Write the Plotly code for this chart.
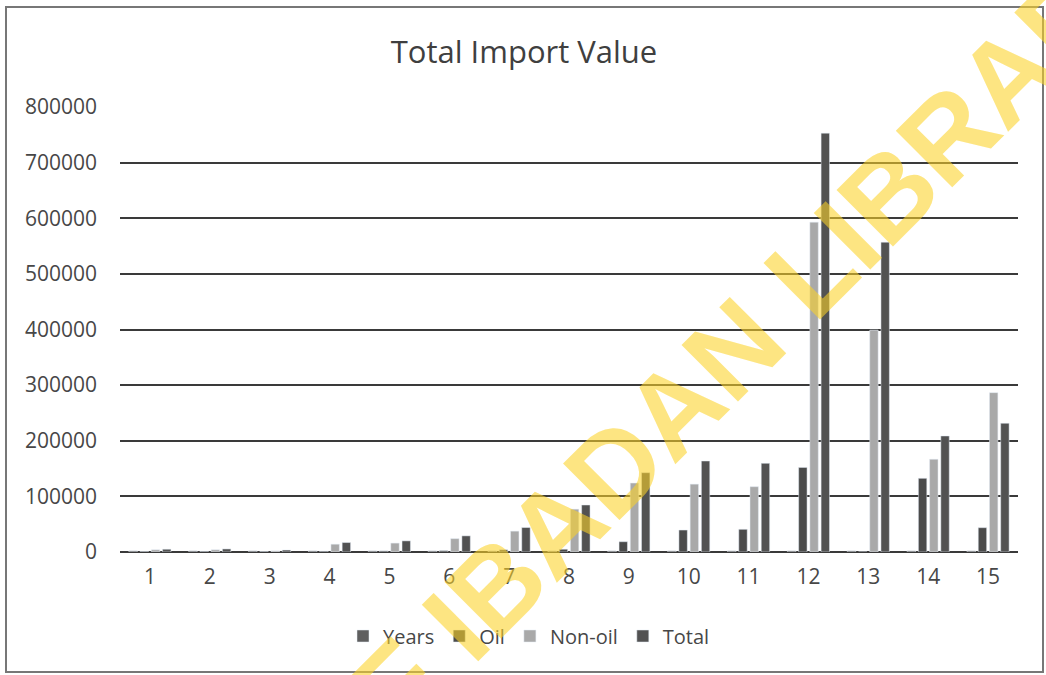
import plotly.graph_objects as go

categories = [str(i) for i in range(1, 16)]
years = [1999, 2000, 2001, 2002, 2003, 2004, 2005, 2006, 2007, 2008, 2009, 2010, 2011, 2012, 2013]
oil = [1000, 1200, 800, 1500, 2000, 2500, 4000, 5000, 18500, 39500, 40800, 152000, 0, 132500, 43700]
non_oil = [4000, 4000, 2000, 14000, 16000, 24000, 37500, 77000, 124000, 122000, 117400, 593000, 399000, 166700, 286500]
total = [5000, 5500, 3500, 17000, 20000, 29000, 44000, 84500, 142600, 163600, 159400, 753000, 557000, 208600, 231400]
y_ticks = [0, 100000, 200000, 300000, 400000, 500000, 600000, 700000, 800000]

FONT = "Open Sans"
TXT = "#474747"

fig = go.Figure()
fig.add_trace(go.Bar(name="Years", x=categories, y=years, marker_color="#5f5f5f"))
fig.add_trace(go.Bar(name="Oil", x=categories, y=oil, marker_color="#4b4b4b"))
fig.add_trace(go.Bar(name="Non-oil", x=categories, y=non_oil, marker_color="#a9a9a9"))
fig.add_trace(go.Bar(name="Total", x=categories, y=total, marker_color="#525252"))

L, R, T, B = 120, 28, 107, 123
W, H = 1046, 675

def px_x(px):
    return (px - L) / (W - L - R)

def px_y(py):
    return (H - B - py) / (H - T - B)

fig.update_layout(
    width=W, height=H,
    margin=dict(l=L, r=R, t=T, b=B),
    paper_bgcolor="white", plot_bgcolor="white",
    barmode="group", bargap=0.25, bargroupgap=0.25,
    font=dict(family=FONT, size=21, color=TXT),
    title=dict(text="Total Import Value", x=524 / W, xanchor="center",
               y=1 - 52 / H, yanchor="middle",
               font=dict(family=FONT, size=31, color="#3f3f3f")),
    showlegend=True,
    legend=dict(orientation="h", x=px_x(529), xanchor="center",
                y=px_y(636), yanchor="middle",
                font=dict(family=FONT, size=20, color=TXT),
                itemwidth=30, bgcolor="rgba(0,0,0,0)"),
    xaxis=dict(type="category", showgrid=False, showline=False, ticks="",
               tickfont=dict(family=FONT, size=21, color=TXT),
               ticklabelstandoff=10),
    yaxis=dict(range=[0, 800000], tickvals=y_ticks, ticktext=[str(v) for v in y_ticks],
               showgrid=True, gridcolor="#3a3a3a", gridwidth=2,
               zeroline=True, zerolinecolor="#3a3a3a", zerolinewidth=2,
               showline=False, ticks="",
               tickfont=dict(family=FONT, size=21, color=TXT),
               ticklabelstandoff=22),
)

# scan frame
fig.add_shape(type="rect", xref="paper", yref="paper",
              x0=px_x(6), x1=px_x(1043), y0=px_y(672), y1=px_y(7),
              line=dict(color="#777777", width=2), fillcolor="rgba(0,0,0,0)", layer="below")

# watermark
fig.add_annotation(text="<b>UNIVERSITY OF IBADAN LIBRARY</b>", xref="paper", yref="paper",
                   x=px_x(471), y=px_y(612), xanchor="center", yanchor="middle",
                   showarrow=False, textangle=-45,
                   font=dict(family="Liberation Sans", size=116, color="rgba(252,210,40,0.58)"))

fig.write_html("out.html")
